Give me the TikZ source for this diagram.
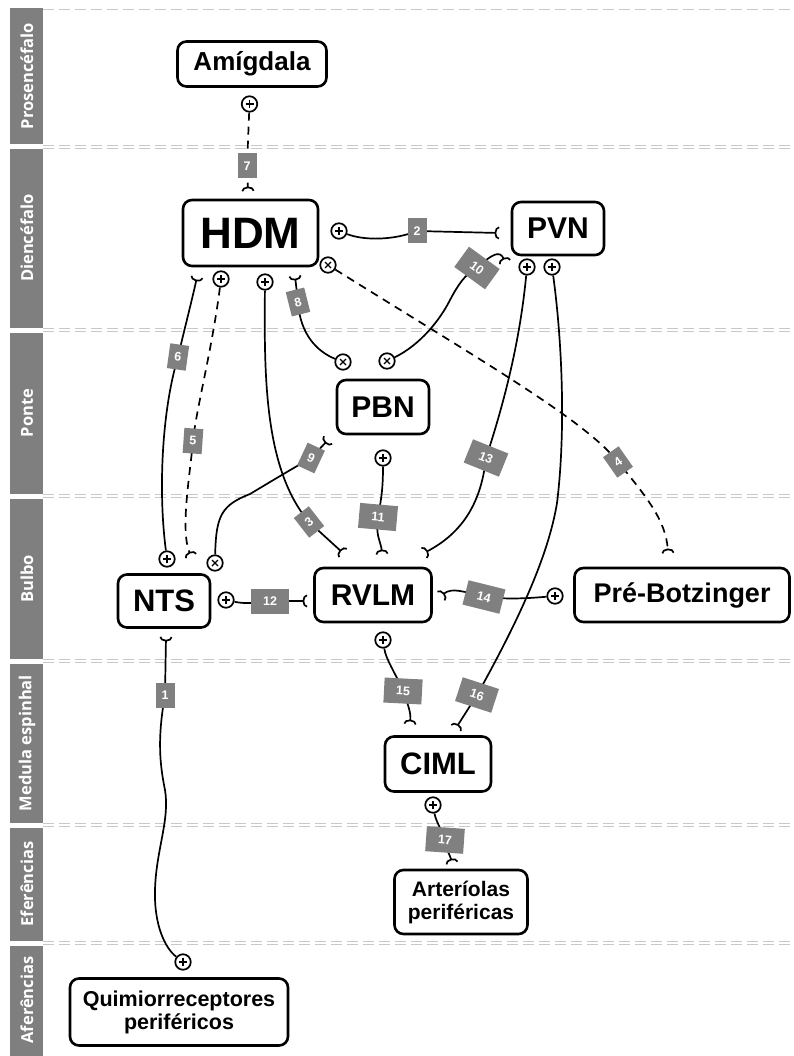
\documentclass[tikz,border=0pt]{standalone}
\usepackage{fontspec}
\setmainfont{Liberation Sans}
\newfontfamily\sidefont{Open Sans}
\usetikzlibrary{arrows.meta}
\definecolor{bandgray}{HTML}{7F7F7F}
\definecolor{sepgray}{HTML}{C8C8C8}
\definecolor{labgray}{HTML}{808080}
\newcommand{\fs}[1]{\fontsize{#1}{#1}\selectfont}
\begin{document}
\begin{tikzpicture}[x=1pt,y=-1pt,
  box/.style={draw,line width=2.6pt,rounded corners=9pt,inner sep=0pt,font=\bfseries,align=center},
  conn/.style={line width=1.7pt,-{Arc Barb[reversed,length=4.5pt,width=13pt]}},
  dconn/.style={conn,dash pattern=on 8pt off 6pt},
  lab/.style={fill=labgray,text=white,font=\bfseries\fs{12.5},minimum height=25pt,minimum width=19pt,inner sep=0pt},
  labw/.style={lab,minimum width=38pt},
  term/.style={circle,draw,line width=1.7pt,minimum size=15.5pt,inner sep=0pt,fill=white},
  plus/.style={term,path picture={\draw[line width=1.3pt]
     ([xshift=-4pt]path picture bounding box.center) -- ([xshift=4pt]path picture bounding box.center)
     ([yshift=-4pt]path picture bounding box.center) -- ([yshift=4pt]path picture bounding box.center);}},
  times/.style={term,path picture={\draw[line width=1.3pt]
     ([shift={(-3pt,-3pt)}]path picture bounding box.center) -- ([shift={(3pt,3pt)}]path picture bounding box.center)
     ([shift={(-3pt,3pt)}]path picture bounding box.center) -- ([shift={(3pt,-3pt)}]path picture bounding box.center);}},
  band/.style={fill=bandgray,draw=none},
  bandtext/.style={rotate=90,text=white,font=\sidefont\bfseries\fs{16.5}},
  sep/.style={draw=sepgray,line width=1pt,dash pattern=on 11pt off 5pt}
]
\useasboundingbox[fill=white] (0,0) rectangle (793,1056);

% side bands
\fill[band] (10,8) rectangle (43,144);
\fill[band] (10,149) rectangle (43,328);
\fill[band] (10,333) rectangle (43,494);
\fill[band] (10,499) rectangle (43,659);
\fill[band] (10,664) rectangle (43,823);
\fill[band] (10,828) rectangle (43,941);
\fill[band] (10,946) rectangle (43,1056);
\node[bandtext] (t1) at (27,76) {Prosencéfalo};
\node[bandtext] (t2) at (27,238) {Diencéfalo};
\node[bandtext] (t3) at (27,413) {Ponte};
\node[bandtext] (t4) at (27,579) {Bulbo};
\node[bandtext] (t5) at (27,743) {Medula espinhal};
\node[bandtext] (t6) at (27,884) {Eferências};
\node[bandtext] (t7) at (27,1000) {Aferências};

% separators
\draw[sep] (43,10) -- (793,10);
\foreach \yy in {147,330,496,661,825,943} {
  \draw[sep] (43,\yy-1.7) -- (793,\yy-1.7);
  \draw[sep] (43,\yy+1.7) -- (793,\yy+1.7);
}

% boxes
\node[box,minimum width=149pt,minimum height=45pt,font=\bfseries\fs{26}] (amig) at (252,64) {Amígdala};
\node[box,minimum width=135pt,minimum height=66pt,font=\bfseries\fs{44}] (hdm) at (250.5,233) {HDM};
\node[box,minimum width=92pt,minimum height=53pt,font=\bfseries\fs{30}] (pvn) at (558,228.5) {PVN};
\node[box,minimum width=92pt,minimum height=54pt,font=\bfseries\fs{30}] (pbn) at (383,407) {PBN};
\node[box,minimum width=92pt,minimum height=53pt,font=\bfseries\fs{31}] (nts) at (164,601) {NTS};
\node[box,minimum width=117pt,minimum height=54pt,font=\bfseries\fs{30}] (rvlm) at (373,595) {RVLM};
\node[box,minimum width=215pt,minimum height=54pt,font=\bfseries\fs{27}] (preb) at (682,595) {Pré-Botzinger};
\node[box,minimum width=106pt,minimum height=55pt,font=\bfseries\fs{31}] (ciml) at (438,764) {CIML};
\node[box,minimum width=133pt,minimum height=64pt,font=\bfseries\fontsize{21}{23}\selectfont] (art) at (461,902) {Arteríolas\\periféricas};
\node[box,minimum width=218pt,minimum height=67pt,font=\bfseries\fontsize{21.5}{23}\selectfont] (quim) at (179,1012) {Quimiorreceptores\\periféricos};

% terminals
\node[plus] (cA7) at (249.5,104) {};
\node[plus] (cH2) at (339,231) {};
\node[plus] (cH5) at (221,279) {};
\node[plus] (cH3) at (265,282) {};
\node[times] (cH4) at (328,265) {};
\node[times] (cP8) at (343,362) {};
\node[times] (cP10) at (387,361) {};
\node[plus] (cV13) at (527,267) {};
\node[plus] (cV16) at (552,267) {};
\node[plus] (cN6) at (167,559) {};
\node[times] (cN9) at (215,563) {};
\node[plus] (cN12) at (226,600) {};
\node[plus] (cP11) at (383,458) {};
\node[plus] (cB14) at (555,596) {};
\node[plus] (cR15) at (383,640) {};
\node[plus] (cC17) at (433,805) {};
\node[plus] (cQ1) at (183,962) {};

% fork ends
\coordinate (f1) at (166,637);
\coordinate (f2) at (499,233);
\coordinate (f3) at (343,553);
\coordinate (f4) at (668,553);
\coordinate (f5) at (191,556);
\coordinate (f6) at (197,277);
\coordinate (f7) at (248,191);
\coordinate (f8) at (295,276);
\coordinate (f9) at (328,440);
\coordinate (f10) at (505,262);
\coordinate (f11) at (382,554);
\coordinate (f12) at (307,601);
\coordinate (f13) at (424,553);
\coordinate (f14) at (441,596);
\coordinate (f15) at (410,724);
\coordinate (f16) at (456,728);
\coordinate (f17) at (452,863);

% label positions
\coordinate (p1) at (165,695);
\coordinate (p2) at (417,231);
\coordinate (p3) at (309,522);
\coordinate (p4) at (618,462);
\coordinate (p5) at (193,441);
\coordinate (p6) at (178,357);
\coordinate (p7) at (247,166);
\coordinate (p8) at (298,302);
\coordinate (p9) at (311,458);
\coordinate (p10) at (477,268);
\coordinate (p11) at (378,517);
\coordinate (p12) at (270,601);
\coordinate (p13) at (486,458);
\coordinate (p14) at (484,597);
\coordinate (p15) at (403,691);
\coordinate (p16) at (477,695);
\coordinate (p17) at (445,840);

% connectors
\draw[conn] (cQ1) .. controls (165,948) and (154,925) .. (155,890) .. controls (156,850) and (170,820) .. (165,790) .. controls (160,765) and (157,740) .. (p1) -- (f1);
\draw[conn] (cH2) .. controls (365,241) and (395,240) .. (p2) -- (f2);
\draw[conn] (cH3) .. controls (264,380) and (265,470) .. (p3) -- (f3);
\draw[dconn] (cH4) .. controls (480,360) and (585,420) .. (p4) .. controls (645,495) and (666,520) .. (f4);
\draw[dconn] (cH5) .. controls (212,350) and (196,410) .. (p5) .. controls (190,475) and (180,530) .. (f5);
\draw[conn] (cN6) .. controls (158,490) and (162,410) .. (p6) .. controls (183,335) and (192,300) .. (f6);
\draw[dconn] (cA7) -- (p7) -- (f7);
\draw[conn] (cP8) .. controls (318,352) and (300,335) .. (p8) -- (f8);
\draw[conn] (cN9) .. controls (216,515) and (222,505) .. (250,494) .. controls (270,482) and (290,470) .. (p9) -- (f9);
\draw[conn] (cP10) .. controls (420,345) and (440,320) .. (450,300) .. controls (458,285) and (465,274) .. (p10) .. controls (492,254) and (500,250) .. (f10);
\draw[conn] (cP11) .. controls (383,490) and (381,500) .. (p11) .. controls (375,535) and (381,542) .. (f11);
\draw[conn] (cN12) .. controls (245,604) and (255,603) .. (p12) -- (f12);
\draw[conn] (cV13) .. controls (520,340) and (505,400) .. (p13) .. controls (482,495) and (468,530) .. (f13);
\draw[conn] (cB14) .. controls (520,599) and (505,599) .. (p14) .. controls (465,592) and (452,587) .. (f14);
\draw[conn] (cR15) .. controls (386,660) and (395,672) .. (p15) .. controls (408,705) and (411,712) .. (f15);
\draw[conn] (cV16) .. controls (562,340) and (566,430) .. (557,503) .. controls (550,545) and (530,600) .. (p16) -- (f16);
\draw[conn] (cC17) .. controls (436,822) and (442,830) .. (p17) .. controls (447,852) and (450,855) .. (f17);

% number labels
\node[lab] (L1) at (p1) {1};
\node[lab] (L2) at (p2) {2};
\node[lab,rotate=38] (L3) at (p3) {3};
\node[lab,rotate=35] (L4) at (p4) {4};
\node[lab,rotate=-4] (L5) at (p5) {5};
\node[lab,rotate=-8] (L6) at (p6) {6};
\node[lab] (L7) at (p7) {7};
\node[lab,rotate=14] (L8) at (p8) {8};
\node[lab,rotate=-25] (L9) at (p9) {9};
\node[labw,rotate=-36] (L10) at (p10) {10};
\node[labw,rotate=-5] (L11) at (p11) {11};
\node[labw] (L12) at (p12) {12};
\node[labw,rotate=-22] (L13) at (p13) {13};
\node[labw,rotate=-14] (L14) at (p14) {14};
\node[labw,rotate=-3] (L15) at (p15) {15};
\node[labw,rotate=-18] (L16) at (p16) {16};
\node[labw,rotate=-4] (L17) at (p17) {17};
\end{tikzpicture}
\end{document}
